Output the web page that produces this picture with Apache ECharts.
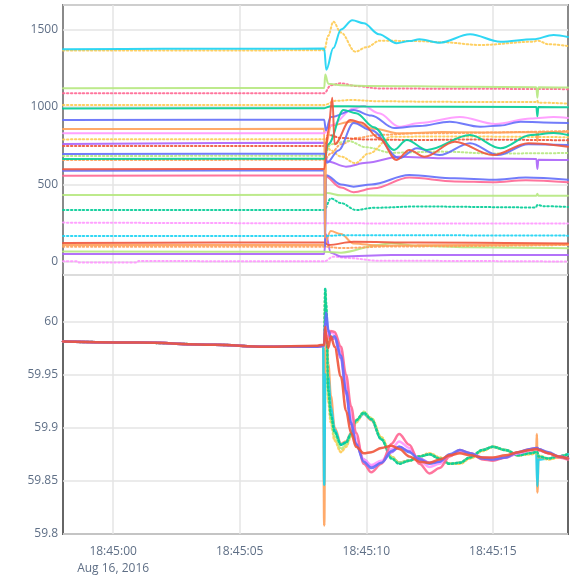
<!DOCTYPE html>
<html>
<head>
<meta charset="utf-8">
<script src="https://cdn.jsdelivr.net/npm/echarts@6/dist/echarts.min.js"></script>
<style>html,body{margin:0;padding:0;background:#fff}#c{width:576px;height:577px}</style>
</head>
<body>
<div id="c"></div>
<script>
// ---- tick labels ----
const timeTicks = [0, 5, 10, 15];          // seconds after 18:45:00
const powerTickStep = 500;                 // power ticks: 0, 500, 1000, 1500
const freqTickStep = 0.05;                 // frequency ticks: 59.8 ... 60
const dateLabel = 'Aug 16, 2016';

// ---- top panel: power traces, [seconds after 18:45:00, value] ----
const pCyan = [[-1.98,1372],[2,1375],[6,1376],[8.34,1377],[8.42,1240],[8.7,1380],[9.0,1500],[9.45,1560],[9.9,1540],[10.5,1470],[11.2,1412],[11.7,1425],[12.1,1437],[12.9,1415],[14.1,1469],[15.3,1421],[16.6,1437],[17.4,1465],[17.97,1452]];
const pOrangeTopDot = [[-1.98,1365],[4,1364],[8.34,1366],[8.5,1460],[8.7,1550],[9.0,1480],[9.57,1357],[10.0,1385],[10.55,1428],[12,1425],[13,1418],[14.5,1400],[16.6,1421],[16.76,1428],[17.2,1405],[17.97,1393]];
const pLGreen1 = [[-1.98,1121],[8.34,1122],[8.38,1210],[8.5,1150],[9,1140],[10,1136],[14,1130],[16.72,1128],[16.76,1060],[16.8,1128],[17.97,1125]];
const pPinkDot1 = [[-1.98,1088],[8.34,1089],[8.6,1140],[9.0,1153],[9.6,1135],[10.5,1120],[13,1118],[17.97,1115]];
const pYellowDot1 = [[-1.98,1013],[8.34,1013],[8.8,1040],[9.4,1045],[10.5,1037],[13,1033],[16.72,1032],[16.76,1040],[16.8,1028],[17.97,1022]];
const pGreen1 = [[-1.98,991],[8.34,992],[8.6,1005],[10,1003],[16.72,1000],[16.76,940],[16.8,1000],[17.97,998]];
const pBlue1 = [[-1.98,916],[8.34,918],[8.4,850],[8.6,935],[9.5,980],[10.2,945],[11.1,864],[12.1,877],[13.3,905],[14.5,873],[15.3,880],[16.1,905],[17,900],[17.97,896]];
const pOrange1 = [[-1.98,858],[8.34,859],[8.37,150],[8.42,760],[8.6,880],[9.4,905],[10.3,860],[11.3,830],[13,838],[15,835],[16.72,838],[16.76,780],[16.8,838],[17.97,841]];
const pViolet1 = [[-1.98,830],[8.34,831],[8.6,880],[9.5,990],[9.9,1006],[10.5,960],[11.3,873],[12.1,896],[13.7,935],[15.1,890],[16.5,925],[17.4,935],[17.97,929]];
const pYellowDot2 = [[-1.98,791],[8.34,792],[8.6,720],[9.0,680],[9.57,638],[10.1,700],[11.0,808],[13,810],[17.97,805]];
const pPurple1 = [[-1.98,761],[8.34,770],[8.45,650],[9.2,615],[10.0,640],[11.3,679],[13,670],[16.72,665],[16.76,600],[16.8,660],[17.97,658]];
const pRedDot1 = [[-1.98,748],[8.34,749],[8.5,820],[9.0,800],[10,790],[12,787],[14,790],[17.97,785]];
const pBlue2 = [[-1.98,697],[8.34,698],[8.45,640],[8.9,720],[9.5,896],[10.2,850],[11.3,670],[12.0,734],[12.9,690],[14.1,766],[15.2,690],[16.4,760],[17.97,755]];
const pLGreenDot = [[-1.98,684],[8.34,685],[8.6,760],[9.3,780],[10,740],[11,705],[13,712],[15,700],[17.97,703]];
const pGreen2 = [[-1.98,664],[8.34,666],[8.5,760],[9.1,980],[9.6,960],[10.3,870],[11.1,723],[11.6,787],[12.4,723],[14.1,819],[15.3,734],[16.5,820],[17.4,832],[17.97,819]];
const pOrangeDot1 = [[-1.98,658],[8.34,659],[8.6,700],[9.0,760],[9.6,800],[10.5,820],[12,830],[17.97,845]];
const pRed1 = [[-1.98,598],[8.34,600],[8.5,850],[8.66,1060],[8.75,760],[9.37,916],[9.8,900],[10.5,800],[11.2,658],[11.7,723],[12.3,679],[13.5,776],[15.0,690],[16.4,766],[17.97,744]];
const pBlue3 = [[-1.98,589],[8.34,590],[8.37,95],[8.42,560],[9.0,500],[9.5,486],[10.2,500],[11.7,561],[13.5,540],[15,530],[16.3,545],[17.97,530]];
const pPink1 = [[-1.98,557],[8.34,558],[9.0,480],[9.5,450],[10.3,475],[11.7,545],[13.5,520],[15,515],[16.3,528],[17.97,515]];
const pLGreen2 = [[-1.98,432],[8.34,433],[8.45,445],[9,430],[12,428],[16.72,427],[16.76,440],[16.8,428],[17.97,428]];
const pTealDot = [[-1.98,335],[8.34,336],[8.6,410],[9.0,380],[9.6,335],[10.3,350],[12,358],[16.7,352],[16.76,368],[17.0,360],[17.97,355]];
const pVioletDot = [[-1.98,254],[8,250],[12,248],[17.97,248]];
const pCyanDot = [[-1.98,168],[8.34,168],[9,172],[12,172],[17.97,170]];
const pRed2 = [[-1.98,123],[4,125],[8.34,125],[8.5,110],[9.5,130],[12,125],[17.97,120]];
const pOrange2 = [[-1.98,110],[8.34,110],[8.6,200],[9.0,180],[9.5,120],[10.5,105],[12,108],[17.97,112]];
const pOrangeDot2 = [[-1.98,98],[8.34,99],[9,90],[11,100],[17.97,110]];
const pLGreen3 = [[-1.98,67],[8.34,66],[9.0,60],[10.5,110],[11.0,121],[12,105],[14,95],[17.97,88]];
const pPurple2 = [[-1.98,52],[8.34,52],[8.4,180],[8.6,60],[9,35],[11,45],[17.97,45]];
const pVioletDot2 = [[-1.98,5],[-1.4,5],[-1.35,-3],[0.95,-3],[1.0,6],[8.34,4],[8.7,34],[9.3,25],[10.5,8],[17.97,3]];

// ---- bottom panel: frequency traces on a shared time base ----
const fTime = [-1.98,1,4,6,8,8.3,8.34,8.38,8.42,8.5,8.6,8.75,9.0,9.2,9.4,9.6,9.9,10.2,10.6,11.0,11.3,11.7,12.1,12.5,12.9,13.3,13.7,14.1,14.6,15.0,15.5,16.0,16.5,16.72,16.74,16.76,16.8,17.2,17.6,17.97];
const fBlue = [59.981,59.980,59.978,59.976,59.976,59.977,59.979,60.000,60.008,59.992,59.985,59.986,59.968,59.935,59.905,59.885,59.868,59.862,59.867,59.878,59.882,59.877,59.870,59.866,59.868,59.875,59.879,59.876,59.871,59.870,59.872,59.877,59.880,59.881,59.881,59.881,59.880,59.877,59.873,59.871];
const fRed = [59.981,59.980,59.978,59.976,59.977,59.978,59.978,59.995,59.985,59.975,59.986,59.976,59.948,59.916,59.895,59.882,59.876,59.877,59.881,59.883,59.880,59.873,59.868,59.867,59.870,59.874,59.876,59.874,59.872,59.872,59.874,59.877,59.879,59.880,59.880,59.880,59.879,59.876,59.873,59.871];
const fPink = [59.981,59.980,59.978,59.976,59.976,59.977,59.978,59.990,59.982,59.986,59.991,59.990,59.976,59.950,59.920,59.895,59.866,59.858,59.866,59.885,59.894,59.884,59.866,59.857,59.862,59.873,59.879,59.876,59.870,59.869,59.872,59.877,59.880,59.881,59.881,59.881,59.880,59.876,59.872,59.870];
const fViolet = [59.981,59.980,59.978,59.976,59.976,59.977,59.978,59.996,59.990,59.985,59.990,59.988,59.972,59.942,59.912,59.890,59.870,59.865,59.869,59.880,59.887,59.881,59.869,59.863,59.866,59.874,59.878,59.876,59.871,59.870,59.872,59.876,59.879,59.880,59.880,59.880,59.879,59.876,59.873,59.871];
const fPurple = [59.981,59.980,59.978,59.976,59.976,59.977,59.978,59.993,60.002,59.988,59.983,59.984,59.965,59.932,59.903,59.884,59.870,59.864,59.867,59.877,59.882,59.878,59.871,59.867,59.868,59.874,59.878,59.876,59.872,59.871,59.872,59.876,59.879,59.880,59.880,59.880,59.879,59.876,59.873,59.871];
const fGreen = [59.981,59.980,59.978,59.976,59.976,59.977,59.978,60.031,60.015,59.935,59.912,59.896,59.884,59.886,59.894,59.907,59.914,59.908,59.889,59.871,59.866,59.869,59.873,59.875,59.871,59.866,59.867,59.872,59.879,59.882,59.879,59.874,59.876,59.877,59.877,59.877,59.873,59.871,59.873,59.875];
const fLGreen = [59.981,59.980,59.978,59.976,59.976,59.977,59.978,60.028,60.010,59.930,59.908,59.892,59.880,59.884,59.893,59.906,59.915,59.909,59.890,59.872,59.867,59.869,59.873,59.875,59.871,59.866,59.867,59.872,59.879,59.882,59.879,59.874,59.876,59.877,59.877,59.877,59.874,59.871,59.873,59.875];
const fYellow = [59.981,59.980,59.978,59.976,59.976,59.977,59.978,60.020,60.005,59.925,59.905,59.888,59.877,59.882,59.892,59.905,59.914,59.909,59.891,59.873,59.867,59.869,59.873,59.876,59.872,59.866,59.866,59.871,59.878,59.882,59.879,59.874,59.875,59.876,59.876,59.876,59.873,59.870,59.872,59.874];
const fCyan = [59.981,59.980,59.978,59.976,59.976,59.977,59.846,59.950,59.942,59.948,59.920,59.898,59.884,59.886,59.894,59.906,59.913,59.908,59.889,59.872,59.867,59.869,59.873,59.875,59.871,59.866,59.867,59.872,59.879,59.882,59.879,59.874,59.876,59.877,59.877,59.845,59.870,59.871,59.873,59.875];
const fOrange = [59.981,59.980,59.978,59.976,59.976,59.977,59.808,59.975,59.985,59.960,59.930,59.900,59.885,59.887,59.895,59.907,59.913,59.907,59.889,59.872,59.867,59.869,59.873,59.875,59.871,59.866,59.867,59.872,59.879,59.882,59.879,59.874,59.876,59.877,59.894,59.839,59.872,59.871,59.873,59.875];

// ---- colours ----
const C = {blue:'#636efa', red:'#EF553B', green:'#00cc96', purple:'#ab63fa', orange:'#FFA15A', cyan:'#19d3f3', pink:'#FF6692', lgreen:'#B6E880', violet:'#FF97FF', yellow:'#FECB52'};

const topSpecs = [
  [pVioletDot2, C.violet, true], [pPurple2, C.purple, false], [pLGreen3, C.lgreen, false],
  [pOrangeDot2, C.orange, true], [pOrange2, C.orange, false], [pRed2, C.red, false],
  [pCyanDot, C.cyan, true], [pVioletDot, C.violet, true], [pTealDot, C.green, true],
  [pLGreen2, C.lgreen, false], [pPink1, C.pink, false], [pBlue3, C.blue, false],
  [pOrangeDot1, C.orange, true], [pLGreenDot, C.lgreen, true], [pRedDot1, C.red, true],
  [pPurple1, C.purple, false], [pYellowDot2, C.yellow, true], [pOrange1, C.orange, false],
  [pViolet1, C.violet, false], [pBlue1, C.blue, false], [pGreen1, C.green, false],
  [pYellowDot1, C.yellow, true], [pPinkDot1, C.pink, true], [pLGreen1, C.lgreen, false],
  [pBlue2, C.blue, false], [pGreen2, C.green, false], [pRed1, C.red, false],
  [pOrangeTopDot, C.yellow, true], [pCyan, C.cyan, false]
];
const botSpecs = [
  [fOrange, C.orange, false], [fCyan, C.cyan, false], [fYellow, C.yellow, true],
  [fLGreen, C.lgreen, true], [fGreen, C.green, true], [fPurple, C.purple, false],
  [fViolet, C.violet, false], [fPink, C.pink, false], [fBlue, C.blue, false], [fRed, C.red, false]
];

const series = [];
topSpecs.forEach(([d, col, dot]) => series.push({
  type:'line', xAxisIndex:0, yAxisIndex:0, data:d, showSymbol:false, smooth:0.35, smoothMonotone:'x',
  lineStyle:{color:col, width:2, type: dot ? [1.5,2.5] : 'solid', cap:'round', opacity:0.9}, silent:true, animation:false
}));
botSpecs.forEach(([v, col, dot]) => series.push({
  type:'line', xAxisIndex:1, yAxisIndex:1, data:fTime.map((t,i)=>[t, v[i]]), showSymbol:false, smooth:0.35, smoothMonotone:'x',
  lineStyle:{color:col, width:2.5, type: dot ? [1.5,2.5] : 'solid', cap:'round', opacity:0.9}, silent:true, animation:false
}));

const labelColor = '#5f6f86';
const gridLine = {show:true, lineStyle:{color:'#e5e5e5', width:1.5}};
function timeFmt(v){
  const s = Math.round(v);
  return '18:45:' + String(s).padStart(2,'0') + (s === 0 ? '\n' + dateLabel : '');
}

const chart = echarts.init(document.getElementById('c'), null, {renderer:'canvas'});
chart.setOption({
  animation:false,
  backgroundColor:'#fff',
  grid:[
    {left:63, right:8, top:5, height:270, show:true, borderColor:'#8a8a8a', borderWidth:2, backgroundColor:'transparent'},
    {left:63, right:8, top:275, height:269, show:true, borderColor:'#666', borderWidth:2, backgroundColor:'transparent'}
  ],
  xAxis:[
    {type:'value', gridIndex:0, min:-1.98, max:17.97, axisLine:{show:false}, axisTick:{show:false, customValues:timeTicks},
     axisLabel:{show:false, customValues:timeTicks}, splitLine:gridLine},
    {type:'value', gridIndex:1, min:-1.98, max:17.97, axisLine:{show:false}, axisTick:{show:false, customValues:timeTicks},
     axisLabel:{customValues:timeTicks, formatter:timeFmt, color:labelColor, fontSize:12, fontFamily:'Open Sans', lineHeight:17, margin:9},
     splitLine:gridLine}
  ],
  yAxis:[
    {type:'value', gridIndex:0, min:-84, max:1658, minInterval:powerTickStep, maxInterval:powerTickStep, splitNumber:3,
     axisLine:{show:false}, axisTick:{show:false},
     axisLabel:{showMinLabel:false, showMaxLabel:false, formatter:v => String(v), color:labelColor, fontSize:12, fontFamily:'Open Sans', margin:5},
     splitLine:gridLine},
    {type:'value', gridIndex:1, min:59.8, max:60.0436, interval:freqTickStep, axisLine:{show:false}, axisTick:{show:false},
     axisLabel:{color:labelColor, fontSize:12, fontFamily:'Open Sans', margin:5, showMaxLabel:false,
       formatter:v => (Math.abs(v - Math.round(v)) < 1e-6 ? String(Math.round(v)) : String(+v.toFixed(2)))},
     splitLine:gridLine}
  ],
  series
});
</script>
</body>
</html>
